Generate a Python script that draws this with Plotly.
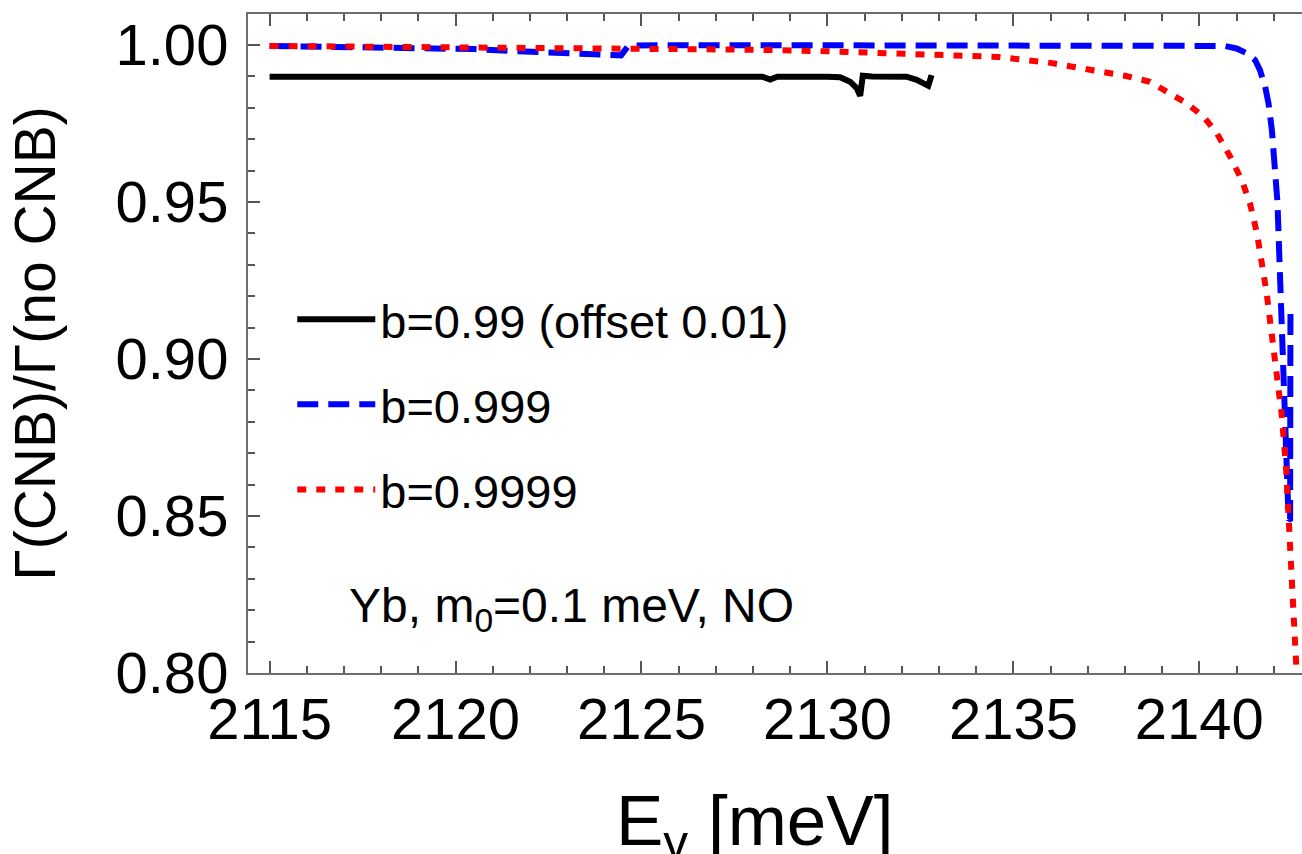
import plotly.graph_objects as go

# --- data ---
black_x = [2115.0, 2128.25, 2128.46, 2128.65, 2130.0, 2130.34, 2130.61, 2130.79, 2130.88, 2130.95,
           2131.2, 2132.13, 2132.4, 2132.6, 2132.71, 2132.8]
black_y = [0.9899, 0.9899, 0.9890, 0.9899, 0.9899, 0.9897, 0.9883, 0.9862, 0.9838, 0.9902,
           0.9900, 0.9899, 0.9889, 0.9878, 0.9870, 0.9904]

blue_x = [2115.0, 2117.0, 2119.0, 2120.5, 2121.5, 2122.5, 2123.5, 2124.3, 2124.45, 2124.65,
          2125.5, 2130.0, 2135.0, 2139.0, 2140.4, 2140.69, 2141.0, 2141.27, 2141.5, 2141.63,
          2141.77, 2141.86, 2141.95, 2142.01, 2142.06, 2142.1, 2142.16, 2142.19, 2142.21,
          2142.3, 2142.37, 2142.4, 2142.44, 2142.45]
blue_y = [0.9997, 0.9995, 0.9991, 0.9987, 0.9981, 0.9976, 0.9970, 0.9965, 0.9967, 0.9998,
          0.9999, 0.9999, 0.9999, 0.9998, 0.9998, 0.9997, 0.9989, 0.9974, 0.9952, 0.9920,
          0.9867, 0.9814, 0.9729, 0.9655, 0.9570, 0.9500, 0.9294, 0.9188, 0.9083,
          0.8869, 0.8657, 0.8487, 0.8490, 0.9151]

red_x = [2115.0, 2120.0, 2125.0, 2128.0, 2130.0, 2132.0, 2133.5, 2134.6, 2136.0, 2137.3,
         2138.0, 2138.67, 2139.21, 2139.66, 2140.11, 2140.47, 2140.83, 2141.14, 2141.36,
         2141.55, 2141.81, 2141.95, 2142.08, 2142.21, 2142.33, 2142.42, 2142.51, 2142.62]
red_y = [0.9997, 0.9994, 0.9990, 0.9985, 0.9980, 0.9974, 0.9968, 0.9962, 0.9943, 0.9917,
         0.9902, 0.9883, 0.9846, 0.9814, 0.9772, 0.9719, 0.9644, 0.9570, 0.9496,
         0.9400, 0.9209, 0.9082, 0.8955, 0.8827, 0.8657, 0.8445, 0.8232, 0.7990]

names = ["b=0.99 (offset 0.01)", "b=0.999", "b=0.9999"]
x_ticks = [2115, 2120, 2125, 2130, 2135, 2140]
y_ticks = [0.80, 0.85, 0.90, 0.95, 1.00]

FONT = "Liberation Sans, Arial, Helvetica, sans-serif"

fig = go.Figure()
fig.add_trace(go.Scatter(x=black_x, y=black_y, mode="lines", name=names[0], legendgroup="a",
                         line=dict(color="black", width=6)))
fig.add_trace(go.Scatter(x=blue_x, y=blue_y, mode="lines", name=names[1], legendgroup="b",
                         line=dict(color="#0000ff", width=6, dash="21px,10px")))
fig.add_trace(go.Scatter(x=red_x, y=red_y, mode="lines", name=names[2], legendgroup="c",
                         line=dict(color="#ff0000", width=6, dash="9px,10px")))

axis_common = dict(
    showline=True, linecolor="#6e6e6e", linewidth=2, ticks="inside", tickcolor="#555",
    tickwidth=1.5, showgrid=False, zeroline=False,
    tickfont=dict(family=FONT, size=58, color="black"),
)

fig.update_xaxes(
    range=[2114.42, 2142.76], tickvals=x_ticks, ticklen=12, mirror="ticks",
    minor=dict(dtick=1, tick0=2115, ticklen=7, ticks="inside", tickcolor="#555", tickwidth=1.5),
    ticklabelstandoff=-6,
    **axis_common,
)
fig.update_yaxes(
    range=[0.80, 1.00987], tickvals=y_ticks, tickformat=".2f", ticklen=12,
    minor=dict(dtick=0.01, tick0=0.80, ticklen=7, ticks="inside", tickcolor="#555", tickwidth=1.5),
    title=dict(text="Γ(CNB)/Γ(no CNB)", font=dict(family=FONT, size=57, color="black"), standoff=42),
    ticklabelstandoff=6,
    **axis_common,
)

# x-axis title placed to match the reference
fig.add_annotation(x=0.481, y=-0.232, xref="paper", yref="paper", showarrow=False,
                   text="E<sub>γ</sub> [meV]",
                   font=dict(family=FONT, size=71, color="black"), xanchor="center", yanchor="middle")

fig.add_annotation(x=0.307, y=0.097, xref="paper", yref="paper", showarrow=False,
                   text="Yb, m<sub>0</sub>=0.1 meV, NO",
                   font=dict(family=FONT, size=48, color="black"), xanchor="center", yanchor="middle")

fig.update_layout(
    width=1302, height=854,
    margin=dict(l=248, r=0, t=14, b=181),
    paper_bgcolor="white", plot_bgcolor="white",
    showlegend=True,
    legend=dict(x=0.042, y=0.593, xanchor="left", yanchor="top", bgcolor="rgba(0,0,0,0)",
                font=dict(family=FONT, size=47, color="black"), tracegroupgap=21,
                traceorder="grouped", itemwidth=78),
)

fig.write_html("out.html")
